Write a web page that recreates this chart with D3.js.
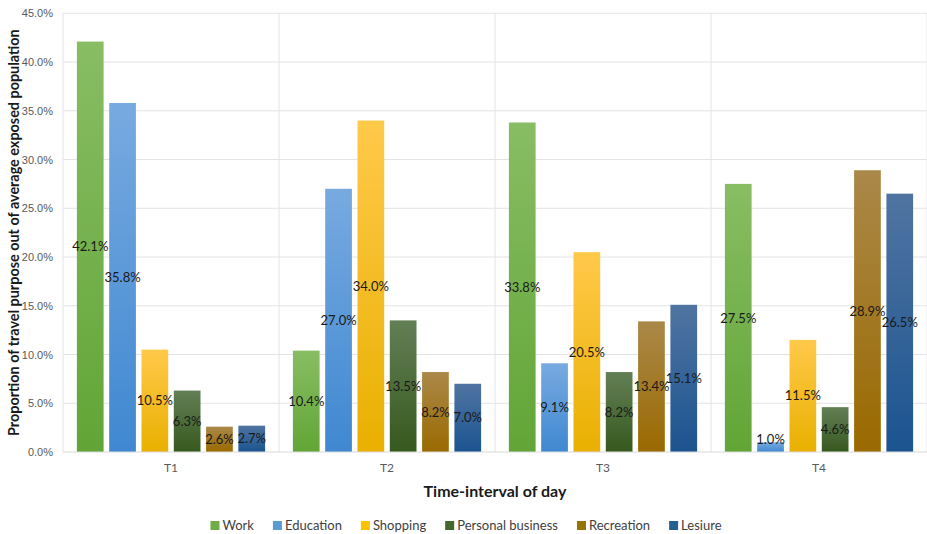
<!DOCTYPE html>
<html>
<head>
<meta charset="utf-8">
<script src="https://cdn.jsdelivr.net/npm/d3@7"></script>
<style>
  body { margin: 0; background: #fff; }
  svg { font-family: Lato, "Open Sans", sans-serif; }
</style>
</head>
<body>
<div id="chart"></div>
<script>
const categories = ["T1", "T2", "T3", "T4"];
const seriesNames = ["Work", "Education", "Shopping", "Personal business", "Recreation", "Lesiure"];
const work = [42.1, 10.4, 33.8, 27.5];
const education = [35.8, 27.0, 9.1, 1.0];
const shopping = [10.5, 34.0, 20.5, 11.5];
const personal = [6.3, 13.5, 8.2, 4.6];
const recreation = [2.6, 8.2, 13.4, 28.9];
const lesiure = [2.7, 7.0, 15.1, 26.5];
const yTicks = [0, 5, 10, 15, 20, 25, 30, 35, 40, 45];

const seriesValues = [work, education, shopping, personal, recreation, lesiure];
// legend colour, gradient top, gradient bottom
const colors = [
  ["#70ad47", "#88bd64", "#62a536"],
  ["#5b9bd5", "#78aae0", "#3f88d1"],
  ["#ffc000", "#ffc94a", "#e9b000"],
  ["#43682b", "#637f55", "#36591e"],
  ["#997300", "#aa8849", "#9a6a00"],
  ["#255e91", "#5074a1", "#1b5490"]
];

const width = 927, height = 534;
const margin = {top: 13.3, right: 0, bottom: 82, left: 63};

const svg = d3.select("#chart").append("svg")
  .attr("width", width)
  .attr("height", height);

const defs = svg.append("defs");
colors.forEach((c, i) => {
  const g = defs.append("linearGradient")
    .attr("id", "grad" + i)
    .attr("x1", 0).attr("y1", 0).attr("x2", 0).attr("y2", 1);
  g.append("stop").attr("offset", "0%").attr("stop-color", c[1]);
  g.append("stop").attr("offset", "100%").attr("stop-color", c[2]);
});

const y = d3.scaleLinear().domain([0, 45]).range([height - margin.bottom + 0, margin.top]);
const y0 = y(0);

const x0 = d3.scaleBand().domain(categories).range([margin.left, width - margin.right]);
const x1 = d3.scaleBand().domain(seriesNames).range([0, x0.bandwidth()])
  .paddingInner(0.173).paddingOuter(0.43);

// gridlines
svg.append("g")
  .selectAll("line")
  .data(yTicks.slice(1))
  .join("line")
  .attr("x1", margin.left).attr("x2", width)
  .attr("y1", d => y(d)).attr("y2", d => y(d))
  .attr("stroke", "#e3e3e3").attr("stroke-width", 1);

svg.append("g")
  .selectAll("line")
  .data(categories.map(c => x0(c)).concat([width - margin.right]))
  .join("line")
  .attr("x1", d => d).attr("x2", d => d)
  .attr("y1", margin.top).attr("y2", y0)
  .attr("stroke", "#e3e3e3").attr("stroke-width", 1);

// y axis
const yAxis = svg.append("g")
  .attr("transform", `translate(${margin.left},0)`)
  .call(d3.axisLeft(y).tickValues(yTicks).tickFormat(d => d.toFixed(1) + "%").tickSize(0).tickPadding(10));
yAxis.select(".domain").remove();
yAxis.selectAll("text").attr("fill", "#595959").style("font-size", "11px");

// bars
const groups = svg.append("g")
  .selectAll("g")
  .data(categories)
  .join("g")
  .attr("transform", d => `translate(${x0(d)},0)`);

const cells = groups.selectAll("g")
  .data((c, ci) => seriesNames.map((s, si) => ({s, si, v: seriesValues[si][ci]})))
  .join("g");

cells.append("rect")
  .attr("x", d => x1(d.s))
  .attr("width", x1.bandwidth())
  .attr("y", d => y(d.v))
  .attr("height", d => y0 - y(d.v))
  .attr("fill", d => `url(#grad${d.si})`);

cells.append("text")
  .attr("x", d => x1(d.s) + x1.bandwidth() / 2)
  .attr("y", d => Math.min((y(d.v) + y0) / 2, y0 - 13))
  .attr("dy", "0.35em")
  .attr("text-anchor", "middle")
  .attr("fill", "#1a1a1a")
  .style("font-size", "13px")
  .text(d => d.v.toFixed(1) + "%");

// x axis
svg.append("line")
  .attr("x1", margin.left).attr("x2", width)
  .attr("y1", y0).attr("y2", y0)
  .attr("stroke", "#d9d9d9");

svg.append("g")
  .selectAll("text")
  .data(categories)
  .join("text")
  .attr("x", d => x0(d) + x0.bandwidth() / 2)
  .attr("y", y0 + 20)
  .attr("text-anchor", "middle")
  .attr("fill", "#595959")
  .style("font-size", "12px")
  .text(d => d);

// axis titles
svg.append("text")
  .attr("x", (margin.left + width) / 2)
  .attr("y", 497)
  .attr("text-anchor", "middle")
  .attr("font-weight", "bold")
  .attr("fill", "#1a1a1a")
  .style("font-size", "16px")
  .text("Time-interval of day");

svg.append("text")
  .attr("transform", `translate(19,${(margin.top + y0) / 2}) rotate(-90)`)
  .attr("text-anchor", "middle")
  .attr("font-weight", "bold")
  .attr("fill", "#1a1a1a")
  .style("font-size", "14.4px")
  .text("Proportion of travel purpose out of average exposed population");

// legend
const legend = svg.append("g");
const items = legend.selectAll("g")
  .data(seriesNames)
  .join("g");
items.append("rect")
  .attr("width", 9).attr("height", 9)
  .attr("y", -9)
  .attr("fill", (d, i) => colors[i][0]);
items.append("text")
  .attr("x", 12)
  .attr("y", 0)
  .attr("fill", "#404040")
  .style("font-size", "13px")
  .text(d => d);
let off = 0;
const offs = [];
items.each(function () {
  offs.push(off);
  off += 12 + this.querySelector("text").getComputedTextLength() + 19;
});
off -= 19;
items.attr("transform", (d, i) => `translate(${offs[i]},0)`);
legend.attr("transform", `translate(${466 - off / 2},530)`);
</script>
</body>
</html>
